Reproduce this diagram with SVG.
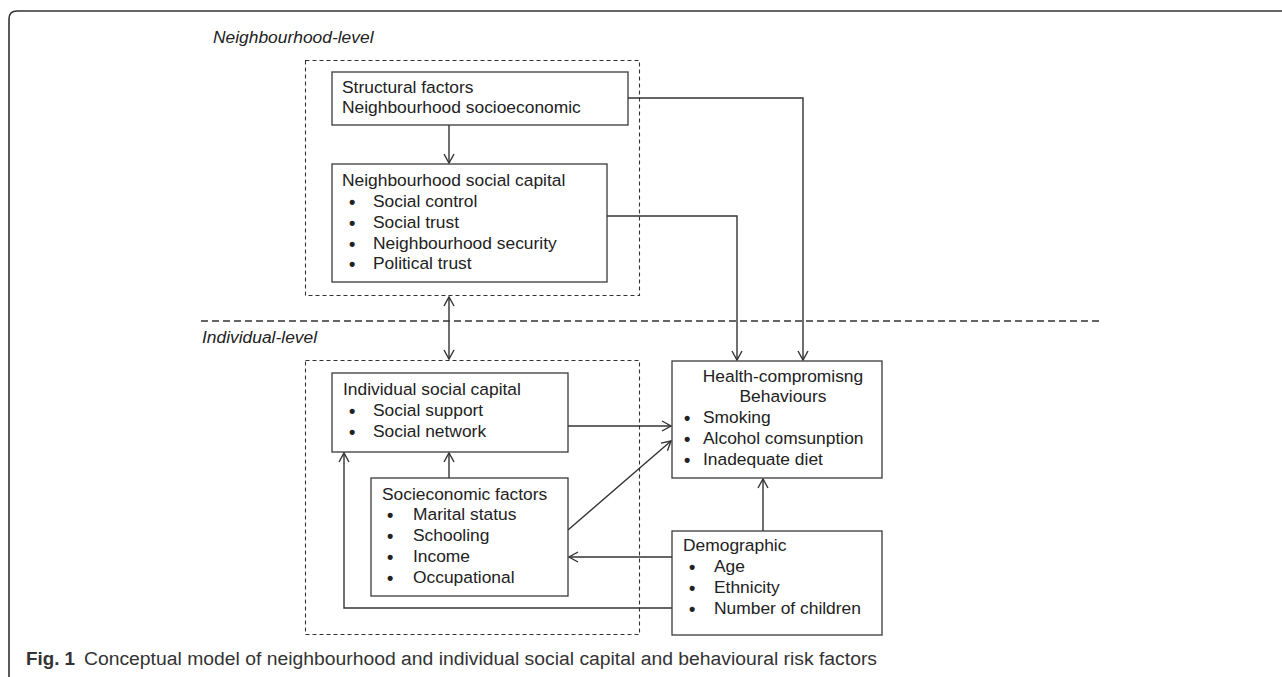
<svg xmlns="http://www.w3.org/2000/svg" width="1282" height="677" viewBox="0 0 1282 677">
<style>
  .t { font-family: "Liberation Sans", Arial, sans-serif; font-size: 17.4px; fill: #222; }
  .b { font-family: "Liberation Sans", Arial, sans-serif; font-size: 18px; font-weight: bold; fill: #222; }
  .lvl { font-family: "Liberation Sans", Arial, sans-serif; font-size: 17.4px; font-style: italic; fill: #222; }
  .box { fill: #fff; stroke: #3a3a3a; stroke-width: 1.3; }
  .dbox { fill: none; stroke: #333; stroke-width: 1.1; stroke-dasharray: 4 3; }
  .conn { fill: none; stroke: #333; stroke-width: 1.4; }
  .cap { font-family: "Liberation Sans", Arial, sans-serif; font-size: 18px; fill: #333; }
</style>
<defs>
  <marker id="arr" markerUnits="userSpaceOnUse" markerWidth="14" markerHeight="14" refX="10" refY="6" orient="auto-start-reverse" viewBox="0 0 14 12">
    <path d="M1,1 L10,6 L1,11" fill="none" stroke="#333" stroke-width="1.4"/>
  </marker>
</defs>
<rect width="1282" height="677" fill="#fff"/>
<!-- outer frame -->
<path d="M9,677 V19 Q9,11 17,11 H1282" fill="none" stroke="#333" stroke-width="1.6"/>

<g id="levels">
  <text class="lvl" x="213" y="43">Neighbourhood-level</text>
  <text class="lvl" x="202" y="343">Individual-level</text>
  <line x1="201" y1="321" x2="1103" y2="321" stroke="#333" stroke-width="1.3" stroke-dasharray="7 4"/>
  <rect class="dbox" x="305.5" y="60.5" width="334" height="235"/>
  <rect class="dbox" x="305.5" y="360.5" width="334" height="274"/>
</g>

<g id="connectors">
  <path class="conn" d="M449,125 V163" marker-end="url(#arr)"/>
  <path class="conn" d="M628,98 H803 V360" marker-end="url(#arr)"/>
  <path class="conn" d="M607,216 H737 V360" marker-end="url(#arr)"/>
  <path class="conn" d="M449,297 V359" marker-start="url(#arr)" marker-end="url(#arr)"/>
  <path class="conn" d="M568,426 H671" marker-end="url(#arr)"/>
  <path class="conn" d="M568,530 L671,441" marker-end="url(#arr)"/>
  <path class="conn" d="M449,478 V453" marker-end="url(#arr)"/>
  <path class="conn" d="M763,531 V479" marker-end="url(#arr)"/>
  <path class="conn" d="M672,557 H569" marker-end="url(#arr)"/>
  <path class="conn" d="M672,608 H344 V453" marker-end="url(#arr)"/>
</g>

<g id="structural">
  <rect class="box" x="332" y="72" width="296" height="53"/>
  <text class="t" x="342" y="93">Structural factors</text>
  <text class="t" x="342" y="113">Neighbourhood socioeconomic</text>
</g>

<g id="nsc">
  <rect class="box" x="332" y="164" width="275" height="118"/>
  <text class="t" x="342" y="186">Neighbourhood social capital</text>
  <text class="b" x="349" y="208">•</text><text class="t" x="373" y="207">Social control</text>
  <text class="b" x="349" y="229">•</text><text class="t" x="373" y="228">Social trust</text>
  <text class="b" x="349" y="250">•</text><text class="t" x="373" y="249">Neighbourhood security</text>
  <text class="b" x="349" y="270">•</text><text class="t" x="373" y="269">Political trust</text>
</g>

<g id="isc">
  <rect class="box" x="332" y="373" width="236" height="79"/>
  <text class="t" x="343" y="395">Individual social capital</text>
  <text class="b" x="349" y="417">•</text><text class="t" x="373" y="416">Social support</text>
  <text class="b" x="349" y="438">•</text><text class="t" x="373" y="437">Social network</text>
</g>

<g id="socio">
  <rect class="box" x="371" y="478" width="197" height="118"/>
  <text class="t" x="382" y="500">Socieconomic factors</text>
  <text class="b" x="387" y="521">•</text><text class="t" x="413" y="520">Marital status</text>
  <text class="b" x="387" y="542">•</text><text class="t" x="413" y="541">Schooling</text>
  <text class="b" x="387" y="563">•</text><text class="t" x="413" y="562">Income</text>
  <text class="b" x="387" y="584">•</text><text class="t" x="413" y="583">Occupational</text>
</g>

<g id="health">
  <rect class="box" x="672" y="361" width="210" height="117"/>
  <text class="t" x="783" y="382" text-anchor="middle">Health-compromisng</text>
  <text class="t" x="783" y="402" text-anchor="middle">Behaviours</text>
  <text class="b" x="684" y="424">•</text><text class="t" x="703" y="423">Smoking</text>
  <text class="b" x="684" y="445">•</text><text class="t" x="703" y="444">Alcohol comsunption</text>
  <text class="b" x="684" y="466">•</text><text class="t" x="703" y="465">Inadequate diet</text>
</g>

<g id="demographic">
  <rect class="box" x="672" y="531" width="210" height="104"/>
  <text class="t" x="683" y="551">Demographic</text>
  <text class="b" x="689" y="573">•</text><text class="t" x="714" y="572">Age</text>
  <text class="b" x="689" y="594">•</text><text class="t" x="714" y="593">Ethnicity</text>
  <text class="b" x="689" y="615">•</text><text class="t" x="714" y="614">Number of children</text>
</g>

<g id="caption">
  <text class="cap" x="26" y="665" font-weight="bold" fill="#222" textLength="49" lengthAdjust="spacingAndGlyphs">Fig. 1</text>
  <text class="cap" x="84" y="665" textLength="793" lengthAdjust="spacingAndGlyphs">Conceptual model of neighbourhood and individual social capital and behavioural risk factors</text>
</g>
</svg>
